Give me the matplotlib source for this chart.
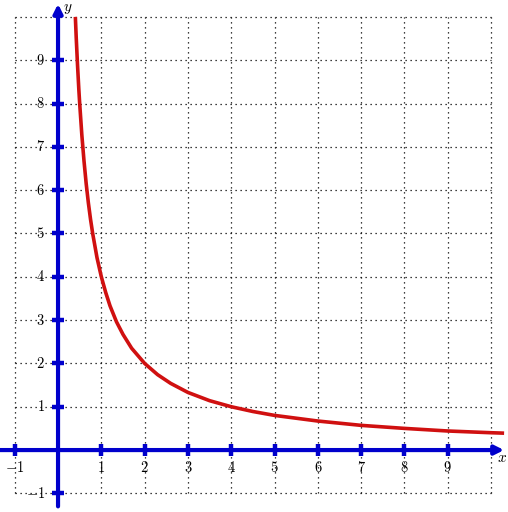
import matplotlib
matplotlib.use("Agg")
import matplotlib.pyplot as plt

# Curve points
curve_x = [0.40, 0.42, 0.45, 0.48, 0.5, 0.55, 0.6, 0.65, 0.7, 0.75, 0.8, 0.9, 1.0, 1.1, 1.2, 1.35, 1.5,
           1.7, 2.0, 2.3, 2.6, 3.0, 3.5, 4.0, 4.5, 5.0, 6.0, 7.0, 8.0, 9.0, 10.0, 10.3]
curve_y = [10.0, 9.52, 8.89, 8.33, 8.0, 7.27, 6.67, 6.15, 5.71, 5.33, 5.0, 4.44, 4.0, 3.64, 3.33, 2.96, 2.67,
           2.35, 2.0, 1.74, 1.54, 1.33, 1.14, 1.0, 0.89, 0.8, 0.67, 0.57, 0.5, 0.44, 0.4, 0.39]

x_ticks = [-1, 1, 2, 3, 4, 5, 6, 7, 8, 9]
y_ticks = [-1, 1, 2, 3, 4, 5, 6, 7, 8, 9]
grid_vals = list(range(-1, 11))

plt.rcParams['mathtext.fontset'] = 'cm'
blue = '#0000cc'
red = '#d01010'

fig = plt.figure(figsize=(5.08, 5.12), dpi=100)
ax = fig.add_axes([0, 0, 1, 1])
ax.set_xlim(-1.34, 10.39)
ax.set_ylim(-1.43, 10.39)
ax.axis('off')

# grid
for g in grid_vals:
    ax.plot([g, g], [-1, 10], color='black', lw=0.9, ls=(0, (1, 3)), zorder=1)
    ax.plot([-1, 10], [g, g], color='black', lw=0.9, ls=(0, (1, 3)), zorder=1)

# axes with arrows
ax.annotate('', xy=(10.3, 0), xytext=(-1.34, 0),
            arrowprops=dict(arrowstyle='-|>', color=blue, lw=3, mutation_scale=13, shrinkA=0, shrinkB=0), zorder=3)
ax.annotate('', xy=(0, 10.3), xytext=(0, -1.3),
            arrowprops=dict(arrowstyle='-|>', color=blue, lw=3, mutation_scale=13, shrinkA=0, shrinkB=0), zorder=3)

# ticks
for t in x_ticks:
    ax.plot([t, t], [-0.13, 0.13], color=blue, lw=3.2, solid_capstyle='butt', zorder=3)
    lab = r'$-1$' if t < 0 else r'$%d$' % t
    ax.text(t, -0.40, lab, ha='center', va='center', fontsize=10.5, zorder=4)
for t in y_ticks:
    ax.plot([-0.14, 0.14], [t, t], color=blue, lw=3.2, solid_capstyle='butt', zorder=3)
    lab = r'$-1$' if t < 0 else r'$%d$' % t
    ax.text(-0.3, t, lab, ha='right', va='center', fontsize=10.5, zorder=4)

ax.text(0.12, 10.2, r'$y$', ha='left', va='center', fontsize=11)
ax.text(10.14, -0.18, r'$x$', ha='left', va='center', fontsize=11)

# curve
ax.plot(curve_x, curve_y, color=red, lw=2.6, zorder=2, solid_capstyle='butt')

fig.savefig('out.png', dpi=100)
